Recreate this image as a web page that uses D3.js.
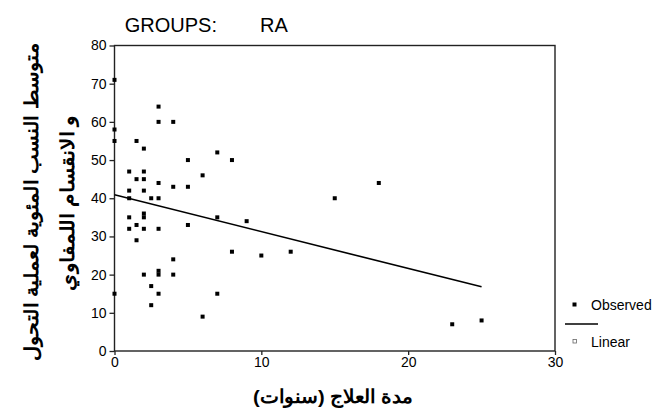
<!DOCTYPE html>
<html>
<head>
<meta charset="utf-8">
<script src="https://cdn.jsdelivr.net/npm/d3@7"></script>
<style>
  body { margin: 0; background: #fff; }
  svg { display: block; }
  text { font-family: "Liberation Sans", Arial, sans-serif; fill: #000; }
</style>
</head>
<body>
<svg width="671" height="412"></svg>
<script>
// observed points: treatment duration (years) vs mean percentage
const years = [
  0, 0, 0, 0,
  1, 1, 1, 1, 1,
  1.5, 1.5, 1.5, 1.5,
  2, 2, 2, 2, 2, 2, 2, 2,
  2.5, 2.5, 2.5,
  3, 3, 3, 3, 3, 3, 3, 3,
  4, 4, 4, 4,
  5, 5, 5,
  6, 6,
  7, 7, 7,
  8, 8,
  9, 10, 12, 15, 18, 23, 25
];
const percent = [
  71, 58, 55, 15,
  47, 42, 40, 35, 32,
  55, 45, 33, 29,
  53, 47, 45, 42, 36, 35, 32, 20,
  40, 17, 12,
  64, 60, 44, 40, 32, 21, 20, 15,
  60, 43, 24, 20,
  50, 43, 33,
  46, 9,
  52, 35, 15,
  50, 26,
  34, 25, 26, 40, 44, 7, 8
];

// fitted linear line (end points)
const fitX = [0, 25];
const fitY = [40.9, 16.8];

const xTicks = [0, 10, 20, 30];
const yTicks = [0, 10, 20, 30, 40, 50, 60, 70, 80];

const svg = d3.select('svg');

const x = d3.scaleLinear().domain([0, 30]).range([114.5, 555]);
const y = d3.scaleLinear().domain([0, 80]).range([351, 45.5]);

// frame
svg.append('rect')
  .attr('x', x(0)).attr('y', y(80))
  .attr('width', x(30) - x(0)).attr('height', y(0) - y(80))
  .attr('fill', 'none').attr('stroke', '#222').attr('stroke-width', 1.4);

// axes
const yAxis = svg.append('g')
  .attr('transform', `translate(${x(0)},0)`)
  .call(d3.axisLeft(y).tickValues(yTicks).tickSize(5).tickPadding(3));

const xAxis = svg.append('g')
  .attr('transform', `translate(0,${y(0)})`)
  .call(d3.axisBottom(x).tickValues(xTicks).tickSize(4).tickPadding(2));

[yAxis, xAxis].forEach((g) => {
  g.select('.domain').remove();
  g.selectAll('line').attr('stroke', '#222').attr('stroke-width', 1.3);
  g.selectAll('text')
    .attr('font-family', '"Liberation Sans", Arial, sans-serif')
    .attr('font-size', 14)
    .attr('fill', '#000');
});

// regression line
const line = d3.line().x((d) => x(d[0])).y((d) => y(d[1]));
svg.append('path')
  .datum(d3.zip(fitX, fitY))
  .attr('d', line)
  .attr('fill', 'none')
  .attr('stroke', '#000')
  .attr('stroke-width', 1.6);

// points
const pts = d3.zip(years, percent);
svg.selectAll('rect.pt')
  .data(pts)
  .enter()
  .append('rect')
  .attr('class', 'pt')
  .attr('x', (d) => x(d[0]) - 2)
  .attr('y', (d) => y(d[1]) - 2)
  .attr('width', 4)
  .attr('height', 4)
  .attr('fill', '#000');

// title
svg.append('text')
  .attr('x', 217).attr('y', 32)
  .attr('text-anchor', 'end')
  .attr('font-size', 20)
  .text('GROUPS:');
svg.append('text')
  .attr('x', 260).attr('y', 32)
  .attr('font-size', 20)
  .text('RA');

// axis titles (Arabic, bold)
const arabicFont = '"DejaVu Sans", sans-serif';
function arabicLabel(transform, txt, len) {
  svg.append('text')
    .attr('transform', transform)
    .attr('text-anchor', 'middle')
    .attr('font-family', arabicFont)
    .attr('font-weight', 'bold')
    .attr('font-size', 19)
    .attr('direction', 'rtl')
    .attr('textLength', len)
    .attr('lengthAdjust', 'spacingAndGlyphs')
    .text(txt);
}
arabicLabel('translate(333,403)', 'مدة العلاج (سنوات)', 160);
arabicLabel('translate(38,202) rotate(-90)', 'متوسط النسب المئوية لعملية التحول', 318);
arabicLabel('translate(74,203) rotate(-90)', 'و الانقسام اللمفاوي', 175);

// legend
const legend = svg.append('g');
legend.append('rect')
  .attr('x', 572.5).attr('y', 302.5).attr('width', 4).attr('height', 4)
  .attr('fill', '#000');
legend.append('text')
  .attr('x', 591).attr('y', 310)
  .attr('font-size', 14)
  .text('Observed');
legend.append('line')
  .attr('x1', 565).attr('x2', 598).attr('y1', 324).attr('y2', 324)
  .attr('stroke', '#000').attr('stroke-width', 1.4);
legend.append('rect')
  .attr('x', 573).attr('y', 339.5).attr('width', 3.5).attr('height', 3.5)
  .attr('fill', 'none').attr('stroke', '#666').attr('stroke-width', 0.8);
legend.append('text')
  .attr('x', 591).attr('y', 347)
  .attr('font-size', 14)
  .text('Linear');
</script>
</body>
</html>
